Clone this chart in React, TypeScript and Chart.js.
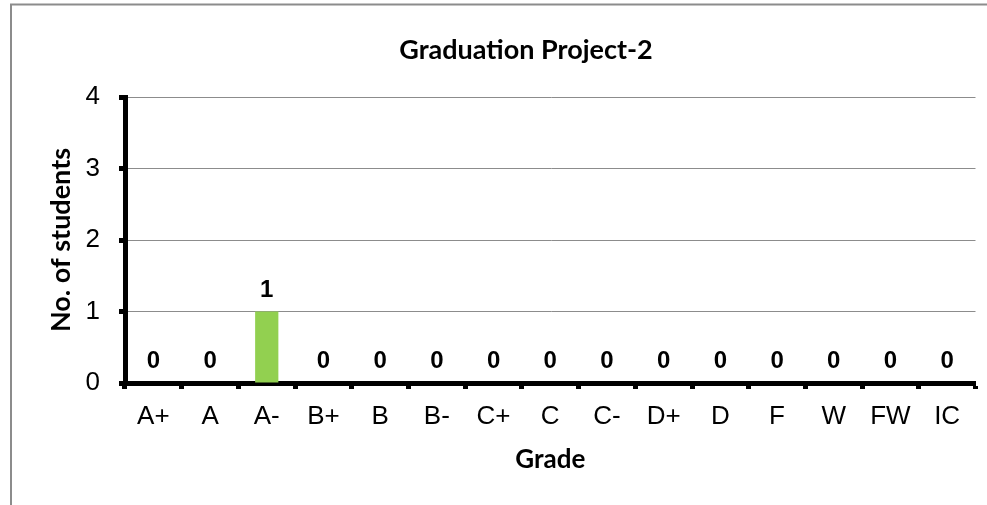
import React, { useEffect, useRef } from "react";
import { Chart, registerables } from "chart.js";

Chart.register(...registerables);

const categories = ["A+", "A", "A-", "B+", "B", "B-", "C+", "C", "C-", "D+", "D", "F", "W", "FW", "IC"];
const students = [0, 0, 1, 0, 0, 0, 0, 0, 0, 0, 0, 0, 0, 0, 0];
const yMin = 0;
const yMax = 4;
const yStep = 1;
const titleText = "Graduation Project-2";
const xTitleText = "Grade";
const yTitleText = "No. of students";

export default function App() {
  const ref = useRef<HTMLCanvasElement>(null);

  useEffect(() => {
    if (!ref.current) return;
    const overlay = {
      id: "overlay",
      beforeDraw(chart: any) {
        const ctx = chart.ctx;
        ctx.save();
        ctx.strokeStyle = "#8c8c8c";
        ctx.lineWidth = 2;
        ctx.strokeRect(11, 4.5, 1200, 800);
        ctx.restore();
      },
      afterDraw(chart: any) {
        const ctx = chart.ctx;
        const area = chart.chartArea;
        ctx.save();
        ctx.fillStyle = "#000";
        // main title
        ctx.font = "bold 27px Lato";
        ctx.textAlign = "center";
        ctx.textBaseline = "middle";
        ctx.fillText(titleText, 526, 50);
        // x title
        ctx.font = "bold 26px Lato";
        ctx.fillText(xTitleText, (area.left + area.right) / 2, 460);
        // y title
        ctx.save();
        ctx.translate(61, (area.top + area.bottom) / 2);
        ctx.rotate(-Math.PI / 2);
        ctx.font = "bold 27px Lato";
        ctx.fillText(yTitleText, 0, 0);
        ctx.restore();
        // data labels
        ctx.font = "bold 24px 'Liberation Sans', Arial";
        ctx.textBaseline = "alphabetic";
        const meta = chart.getDatasetMeta(0);
        meta.data.forEach((bar: any, i: number) => {
          ctx.fillText(String(students[i]), bar.x, bar.y - 15);
        });
        ctx.restore();
      },
    };

    const chart = new Chart(ref.current, {
      type: "bar",
      data: {
        labels: categories,
        datasets: [
          {
            data: students,
            backgroundColor: "#92D050",
            borderWidth: 0,
            barPercentage: 0.41,
            categoryPercentage: 1,
          },
        ],
      },
      options: {
        animation: false,
        responsive: false,
        maintainAspectRatio: false,
        layout: { padding: { top: 97, right: 11.5, left: 0, bottom: 0 } },
        plugins: {
          legend: { display: false },
          tooltip: { enabled: false },
          title: { display: false },
        },
        scales: {
          x: {
            z: 1,
            grid: {
              display: true,
              drawOnChartArea: false,
              drawTicks: true,
              tickLength: 6,
              tickWidth: 5,
              tickColor: "#000",
              offset: true,
            },
            border: { display: true, color: "#000", width: 5 },
            ticks: {
              color: "#000",
              font: { family: "'Liberation Sans', Arial", size: 26 },
              padding: 12,
              maxRotation: 0,
              autoSkip: false,
            },
            afterFit: (s: any) => {
              s.height = 122;
            },
          },
          y: {
            min: yMin,
            max: yMax,
            ticks: {
              stepSize: yStep,
              color: "#000",
              font: { family: "'Liberation Sans', Arial", size: 26 },
              padding: 19,
            },
            grid: {
              color: "#8c8c8c",
              lineWidth: 1,
              tickLength: 6,
              tickWidth: 5,
              tickColor: "#000",
            },
            border: { display: true, color: "#000", width: 5 },
            afterFit: (s: any) => {
              s.width = 125;
            },
          },
        },
      },
      plugins: [overlay],
    });
    return () => chart.destroy();
  }, []);

  return (
    <canvas
      ref={ref}
      width={987}
      height={505}
      style={{ position: "absolute", left: 0, top: 0, width: 987, height: 505 }}
    />
  );
}
